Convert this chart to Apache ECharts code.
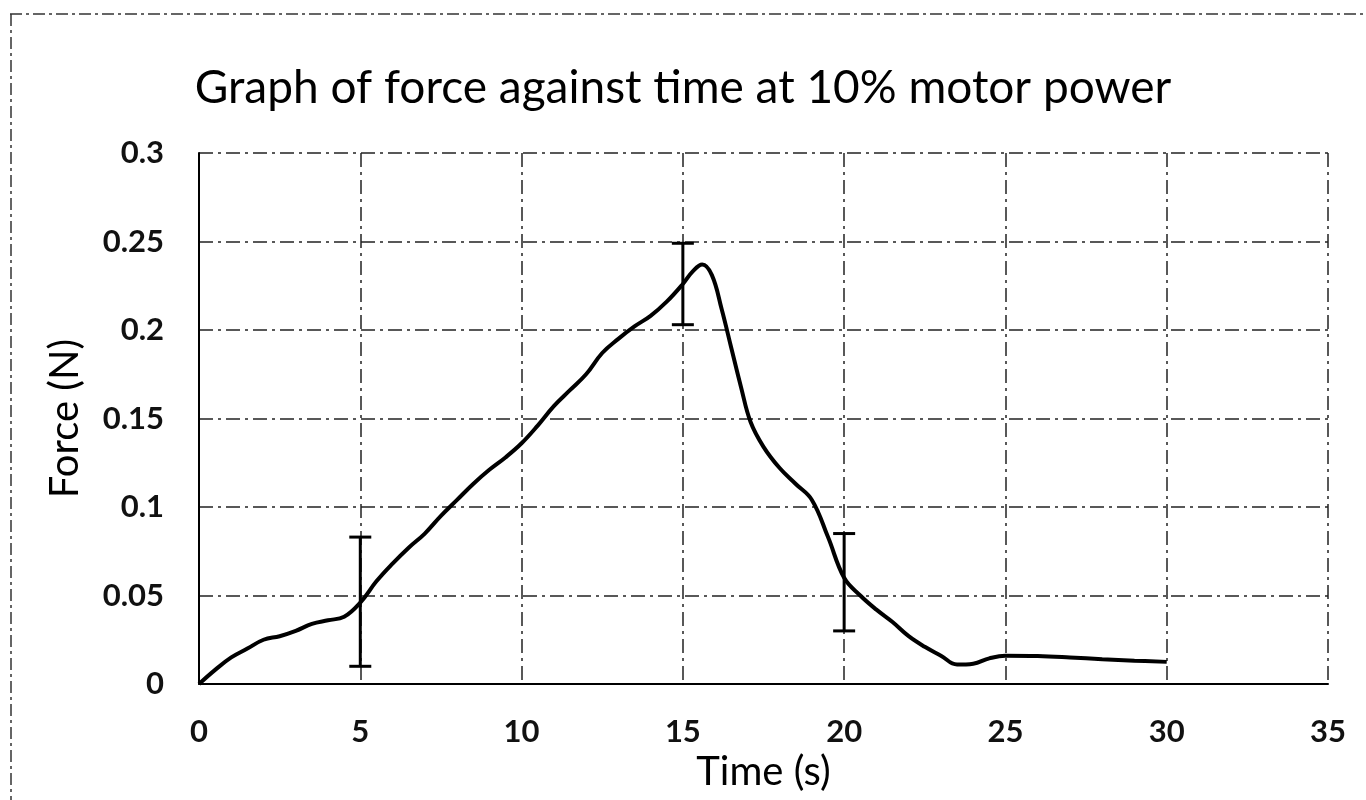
<!DOCTYPE html>
<html lang="en">
<head>
    <meta charset="UTF-8">
    <title>Force against time</title>
    <script src="https://cdn.jsdelivr.net/npm/echarts@6/dist/echarts.min.js"></script>
</head>
<body style="margin: 0; background: #fff">
<div id="main" style="width: 1366px;height: 800px"></div>
</body>

<script>
    // force curve (time in s, force in N)
    const times = [0, 0.5, 1, 1.5, 2, 2.5, 3, 3.5, 4, 4.5, 5, 5.5, 6, 6.5, 7, 7.5, 8, 8.5, 9, 9.5,
        10, 10.5, 11, 11.5, 12, 12.5, 13, 13.5, 14, 14.5, 15, 15.3, 15.6, 15.9, 16.2, 16.5, 16.8, 17.1,
        17.5, 18, 18.5, 19, 19.5, 20, 20.5, 21, 21.5, 22, 22.5, 23, 23.5, 24, 24.5, 25, 26, 27, 28, 29, 30];
    const forces = [0, 0.008, 0.015, 0.02, 0.025, 0.027, 0.03, 0.034, 0.036, 0.038, 0.046, 0.058,
        0.068, 0.077, 0.085, 0.095, 0.104, 0.113, 0.121, 0.128, 0.136, 0.146, 0.157, 0.166, 0.175,
        0.187, 0.195, 0.202, 0.208, 0.216, 0.226, 0.233, 0.237, 0.231, 0.212, 0.19, 0.168, 0.148,
        0.134, 0.122, 0.113, 0.104, 0.083, 0.06, 0.05, 0.042, 0.035, 0.027, 0.021, 0.016, 0.011,
        0.0115, 0.0145, 0.016, 0.0158, 0.015, 0.014, 0.0132, 0.0125];

    // error bars
    const errTimes = [5, 15, 20];
    const errLow = [0.01, 0.203, 0.03];
    const errHigh = [0.083, 0.249, 0.085];

    const chartDom = document.getElementById('main');
    const myChart = echarts.init(chartDom);

    const font = 'Lato, "Open Sans", sans-serif';
    const gridDash = {color: '#222', width: 1.5, type: [14, 5, 3, 5]};

    const lineData = times.map((t, i) => [t, forces[i]]);
    const errData = errTimes.map((t, i) => [t, errLow[i], errHigh[i]]);

    let option = {
        backgroundColor: '#fff',
        animation: false,
        textStyle: {fontFamily: font},
        title: {
            text: 'Graph of force against time at 10% motor power',
            left: 'center',
            top: 60,
            textStyle: {fontSize: 46, fontWeight: 'normal', color: '#000', fontFamily: font}
        },
        graphic: [
            {type: 'line', shape: {x1: 10, y1: 14, x2: 1366, y2: 14},
                style: {stroke: '#333', lineWidth: 1.5, lineDash: [12, 4, 3, 4]}},
            {type: 'line', shape: {x1: 11, y1: 14, x2: 11, y2: 800},
                style: {stroke: '#333', lineWidth: 1.5, lineDash: [12, 4, 3, 4]}}
        ],
        grid: {left: 199, right: 38, top: 153, bottom: 116},
        xAxis: {
            type: 'value',
            min: 0,
            max: 35,
            interval: 5,
            name: 'Time (s)',
            nameLocation: 'middle',
            nameGap: 60,
            nameTextStyle: {fontSize: 40, color: '#000', fontFamily: font},
            axisLine: {lineStyle: {color: '#000', width: 2}},
            axisTick: {show: false},
            axisLabel: {fontSize: 31, color: '#111', margin: 32, fontWeight: 'bold', fontFamily: font},
            splitLine: {show: true, lineStyle: gridDash}
        },
        yAxis: {
            type: 'value',
            min: 0,
            max: 0.3,
            interval: 0.05,
            name: 'Force (N)',
            nameLocation: 'middle',
            nameGap: 114,
            nameTextStyle: {fontSize: 40, color: '#000', fontFamily: font},
            axisLine: {show: true, lineStyle: {color: '#000', width: 2}},
            axisTick: {show: false},
            axisLabel: {fontSize: 31, color: '#111', margin: 35, fontWeight: 'bold', fontFamily: font},
            splitLine: {show: true, lineStyle: gridDash}
        },
        series: [
            {
                name: 'Force',
                type: 'line',
                smooth: 0.4,
                showSymbol: false,
                lineStyle: {color: '#000', width: 4},
                data: lineData,
                z: 3
            },
            {
                name: 'Error',
                type: 'custom',
                renderItem: function (params, api) {
                    const lo = api.coord([api.value(0), api.value(1)]);
                    const hi = api.coord([api.value(0), api.value(2)]);
                    const cap = 11;
                    const style = {stroke: '#000', lineWidth: 3};
                    return {
                        type: 'group',
                        children: [
                            {type: 'line', shape: {x1: lo[0], y1: lo[1], x2: hi[0], y2: hi[1]}, style: style},
                            {type: 'line', shape: {x1: lo[0] - cap, y1: lo[1], x2: lo[0] + cap, y2: lo[1]}, style: style},
                            {type: 'line', shape: {x1: hi[0] - cap, y1: hi[1], x2: hi[0] + cap, y2: hi[1]}, style: style}
                        ]
                    };
                },
                data: errData,
                z: 4
            }
        ]
    };

    option && myChart.setOption(option);
</script>

</html>
